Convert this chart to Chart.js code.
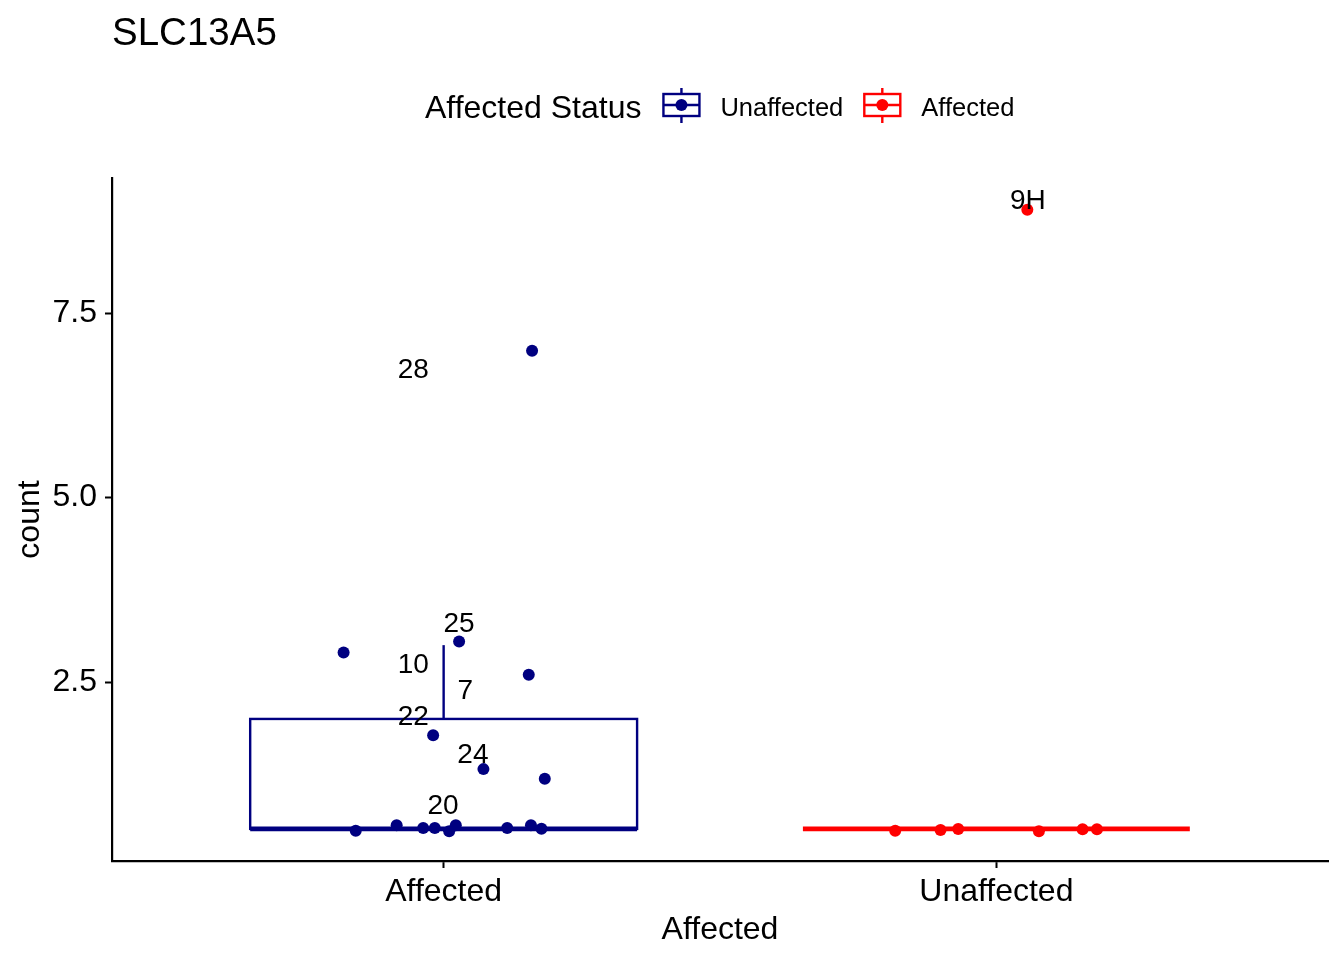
<!DOCTYPE html>
<html>
<head>
    <title>SLC13A5</title>
    <script src="https://cdn.jsdelivr.net/npm/chart.js@4.4.0/dist/chart.umd.min.js"></script>
    <style>
        body { margin: 0; background: #fff; }
    </style>
</head>
<body>
    <canvas id="myChart" width="1344" height="960"></canvas>

    <script>
        // Data
        const categories = ['Affected', 'Unaffected'];
        const groupColors = ['#000080', '#ff0000'];
        const yTicks = [2.5, 5.0, 7.5];

        // box stats per category (lower whisker, Q1, median, Q3, upper whisker)
        const boxLow = [0.51, 0.51];
        const boxQ1 = [0.51, 0.51];
        const boxMed = [0.51, 0.51];
        const boxQ3 = [2.0, 0.51];
        const boxHigh = [3.0, 0.51];

        // jittered points, navy group (x category "Affected")
        const navyX = [0.819, 1.028, 1.154, 0.981, 1.072, 1.183, 0.841, 0.915, 0.963, 0.984, 1.010, 1.022, 1.115, 1.158, 1.177, 1.160];
        const navyY = [2.90, 3.05, 2.60, 1.78, 1.32, 1.19, 0.485, 0.558, 0.522, 0.522, 0.477, 0.558, 0.522, 0.558, 0.512, 6.99];

        // jittered points, red group (x category "Unaffected")
        const redX = [1.817, 1.899, 1.931, 2.077, 2.156, 2.182, 2.056];
        const redY = [0.485, 0.495, 0.508, 0.477, 0.504, 0.504, 8.90];

        // text labels
        const labelText = ['28', '25', '10', '7', '22', '24', '20', '9H'];
        const labelX = [0.945, 1.028, 0.945, 1.039, 0.945, 1.053, 0.999, 2.057];
        const labelY = [6.755, 3.313, 2.757, 2.405, 2.056, 1.54, 0.847, 9.05];

        const legendTitle = 'Affected Status';
        const legendNames = ['Unaffected', 'Affected'];

        const FONT = '"Liberation Sans", Arial, Helvetica, sans-serif';

        const boxPlugin = {
            id: 'boxes',
            beforeDatasetsDraw(chart) {
                const {ctx, scales: {x, y}} = chart;
                categories.forEach((c, i) => {
                    const xc = i + 1;
                    const l = x.getPixelForValue(xc - 0.35);
                    const r = x.getPixelForValue(xc + 0.35);
                    const cx = x.getPixelForValue(xc);
                    const q1 = y.getPixelForValue(boxQ1[i]);
                    const q3 = y.getPixelForValue(boxQ3[i]);
                    ctx.save();
                    ctx.strokeStyle = groupColors[i];
                    ctx.lineWidth = 2.4;
                    ctx.beginPath();
                    ctx.moveTo(cx, q3);
                    ctx.lineTo(cx, y.getPixelForValue(boxHigh[i]));
                    ctx.moveTo(cx, q1);
                    ctx.lineTo(cx, y.getPixelForValue(boxLow[i]));
                    ctx.stroke();
                    if (q1 - q3 > 1) ctx.strokeRect(l, q3, r - l, q1 - q3);
                    ctx.lineWidth = 4.8;
                    ctx.beginPath();
                    const m = y.getPixelForValue(boxMed[i]);
                    ctx.moveTo(l, m);
                    ctx.lineTo(r, m);
                    ctx.stroke();
                    ctx.restore();
                });
            },
            afterDatasetsDraw(chart) {
                const {ctx, scales: {x, y}} = chart;
                ctx.save();
                ctx.fillStyle = '#000';
                ctx.font = '28px ' + FONT;
                ctx.textAlign = 'center';
                ctx.textBaseline = 'alphabetic';
                labelText.forEach((t, i) => {
                    ctx.fillText(t, x.getPixelForValue(labelX[i]), y.getPixelForValue(labelY[i]) + 10);
                });
                ctx.restore();
            },
            afterDraw(chart) {
                const ctx = chart.ctx;
                ctx.save();
                ctx.fillStyle = '#000';
                ctx.textAlign = 'left';
                ctx.textBaseline = 'alphabetic';
                // title
                ctx.font = '38.5px ' + FONT;
                ctx.fillText('SLC13A5', 112, 45);
                // legend
                ctx.font = '32px ' + FONT;
                ctx.fillText(legendTitle, 425, 118);
                let kx = 425 + ctx.measureText(legendTitle).width + 22;
                legendNames.forEach((name, i) => {
                    const col = groupColors[i];
                    ctx.strokeStyle = col;
                    ctx.lineWidth = 2.4;
                    ctx.strokeRect(kx, 94, 36, 22);
                    ctx.beginPath();
                    ctx.moveTo(kx + 18, 88); ctx.lineTo(kx + 18, 94);
                    ctx.moveTo(kx + 18, 116); ctx.lineTo(kx + 18, 123);
                    ctx.moveTo(kx, 105); ctx.lineTo(kx + 36, 105);
                    ctx.stroke();
                    ctx.fillStyle = col;
                    ctx.beginPath();
                    ctx.arc(kx + 18, 105, 6, 0, Math.PI * 2);
                    ctx.fill();
                    ctx.fillStyle = '#000';
                    ctx.font = '25.5px ' + FONT;
                    ctx.fillText(name, kx + 57, 116);
                    kx = kx + 57 + ctx.measureText(name).width + 21;
                });
                ctx.restore();
            }
        };

        const toPoints = (xs, ys) => xs.map((v, i) => ({x: v, y: ys[i]}));

        const data = {
            datasets: [{
                label: legendNames[0],
                data: toPoints(navyX, navyY),
                backgroundColor: groupColors[0],
                borderWidth: 0,
                pointRadius: 6
            }, {
                label: legendNames[1],
                data: toPoints(redX, redY),
                backgroundColor: groupColors[1],
                borderWidth: 0,
                pointRadius: 6
            }]
        };

        const axisCommon = {
            grid: { drawOnChartArea: false, drawTicks: true, tickLength: 7, tickWidth: 2, tickColor: '#000' },
            border: { display: true, color: '#000', width: 2.2 },
            title: { display: true, color: '#000', font: { family: FONT, size: 32 } }
        };

        const config = {
            type: 'scatter',
            data: data,
            options: {
                responsive: false,
                animation: false,
                layout: { padding: { top: 178, right: 16, left: 0, bottom: 0 } },
                plugins: {
                    legend: { display: false },
                    tooltip: { enabled: false }
                },
                scales: {
                    x: {
                        ...axisCommon,
                        type: 'linear',
                        min: 0.4,
                        max: 2.6,
                        afterBuildTicks: (scale) => { scale.ticks = categories.map((c, i) => ({value: i + 1})); },
                        afterFit: (scale) => { scale.height = 99; },
                        ticks: {
                            color: '#000', padding: 5,
                            font: { family: FONT, size: 32 },
                            callback: (v) => categories[Math.round(v) - 1]
                        },
                        title: { ...axisCommon.title, text: 'Affected', padding: { top: 0, bottom: 11 } }
                    },
                    y: {
                        ...axisCommon,
                        min: 0.075,
                        max: 9.33,
                        afterBuildTicks: (scale) => { scale.ticks = yTicks.map(v => ({value: v})); },
                        afterFit: (scale) => { scale.width = 112; },
                        ticks: {
                            color: '#000', padding: 8,
                            font: { family: FONT, size: 32 },
                            callback: (v) => v.toFixed(1)
                        },
                        title: { ...axisCommon.title, text: 'count', padding: { top: 11, bottom: 0 } }
                    }
                }
            },
            plugins: [boxPlugin]
        };

        // Create the chart
        const ctx = document.getElementById('myChart');
        new Chart(ctx, config);
    </script>
</body>
</html>
